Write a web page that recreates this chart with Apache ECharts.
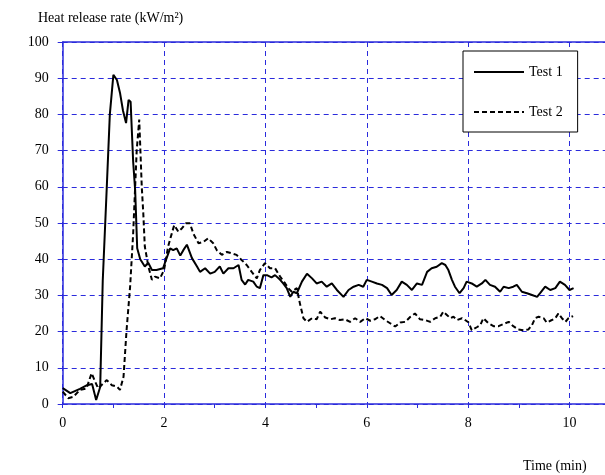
<!DOCTYPE html>
<html>
<head>
<meta charset="utf-8">
<script src="https://cdn.jsdelivr.net/npm/echarts@6/dist/echarts.min.js"></script>
<style>html,body{margin:0;padding:0;background:#fff}#c{width:605px;height:475px}</style>
</head>
<body>
<div id="c"></div>
<script>
var seriesNames = ['Test 1', 'Test 2'];
var xTickLabels = ['0', '2', '4', '6', '8', '10'];
var yTickLabels = ['0','10','20','30','40','50','60','70','80','90','100'];

var test1Time = [0,0.15,0.34,0.48,0.58,0.66,0.74,0.79,0.87,0.93,1.0,1.07,1.13,1.19,1.25,1.30,1.34,1.39,1.43,1.47,1.53,1.62,1.69,1.76,1.85,1.98,2.05,2.12,2.18,2.25,2.32,2.38,2.45,2.55,2.65,2.71,2.81,2.91,3.0,3.1,3.17,3.27,3.37,3.47,3.53,3.6,3.66,3.76,3.83,3.89,3.96,4.03,4.12,4.19,4.29,4.35,4.42,4.49,4.55,4.62,4.72,4.82,4.92,5.01,5.11,5.21,5.31,5.41,5.54,5.64,5.74,5.84,5.93,6.0,6.1,6.2,6.3,6.4,6.49,6.59,6.69,6.79,6.89,6.99,7.09,7.19,7.28,7.38,7.48,7.55,7.61,7.68,7.74,7.83,7.91,7.97,8.07,8.17,8.27,8.34,8.43,8.53,8.63,8.7,8.8,8.89,8.96,9.06,9.16,9.26,9.36,9.42,9.52,9.62,9.72,9.81,9.91,10.0,10.08];
var test1Value = [4.4,3.0,4.2,5.2,5.5,1.1,4.7,34,60,80,90.9,89.5,86,81,77.6,84,83.5,67,59,43,40,38,39,37,37,37.5,40.3,43,42.5,43,41,42.5,44,40.3,38,36.5,37.5,36,36.5,38,36,37.5,37.5,38.4,34.3,33,34.3,33.8,32.4,32,35.6,35.6,35,35.6,34.3,33.3,32,29.6,31,30.6,33.8,36,34.7,33.3,33.8,32.4,33.3,31.5,29.6,31.5,32.4,32.9,32.4,34.3,33.8,33.3,32.9,32,30.1,31.5,33.8,32.9,31.5,33.3,32.9,36.5,37.5,37.9,38.9,38.4,37,34.3,32.4,30.6,32,33.8,33.3,32.4,33.3,34.3,32.9,32.4,31,32.4,32,32.4,32.9,31,30.6,30.1,29.6,30.6,32.4,31.5,32,33.8,32.9,31.5,32];

var test2Time = [0,0.11,0.21,0.34,0.47,0.57,0.64,0.7,0.8,0.87,0.97,1.07,1.13,1.2,1.26,1.33,1.39,1.46,1.51,1.56,1.59,1.62,1.69,1.76,1.82,1.92,2.0,2.08,2.15,2.2,2.28,2.35,2.43,2.51,2.58,2.68,2.78,2.87,2.97,3.04,3.14,3.24,3.34,3.43,3.53,3.63,3.73,3.83,3.89,3.99,4.09,4.19,4.29,4.39,4.45,4.52,4.62,4.68,4.75,4.82,4.92,5.01,5.08,5.18,5.28,5.37,5.47,5.57,5.67,5.77,5.87,5.97,6.07,6.16,6.26,6.36,6.46,6.56,6.66,6.76,6.86,6.95,7.05,7.15,7.25,7.35,7.45,7.51,7.58,7.65,7.71,7.78,7.88,7.94,8.01,8.07,8.17,8.24,8.3,8.4,8.5,8.6,8.7,8.8,8.89,8.99,9.09,9.19,9.26,9.32,9.39,9.49,9.55,9.65,9.72,9.78,9.85,9.92,9.98,10.07];
var test2Value = [3.4,1.6,2.0,3.9,4.3,8.5,6.2,4.3,5.7,6.6,5.2,4.8,3.9,7.5,20.4,32.4,47,70,78.6,60,52.7,43.5,38,34.3,35.2,34.7,37,43.5,47,49.4,47.6,48.5,49.9,49.9,47,44.4,44.8,45.8,44.4,42.5,41.2,42,41.6,41.2,39.8,38.4,36.5,34.7,37,38.9,37.5,37.5,35.2,33.3,32,31,32,27.8,23.7,22.7,23.7,23.4,25.5,23.9,23.4,23.7,23.2,23.4,22.7,23.7,22.7,23.7,23,23.4,24.3,23.2,22.3,21.4,22.5,22.7,24.1,25,23.4,23.2,22.7,23.7,24.1,25.5,24.6,23.7,24.1,23.2,23.7,23.2,22.5,20.4,21.2,21.8,23.7,22.3,21.5,21.5,22.1,22.7,21.5,20.6,20.4,20.6,21.8,23.7,24.1,23.7,22.5,23.2,23.7,25,23.7,22.7,23.7,24.3];

function pairs(t, v) { return t.map(function (x, i) { return [x, v[i]]; }); }

var BLUE = '#2b2bdc';
var FONT = 'Liberation Serif';

var chart = echarts.init(document.getElementById('c'), null, { renderer: 'canvas' });
chart.setOption({
  animation: false,
  backgroundColor: '#fff',
  title: {
    text: 'Heat release rate (kW/m²)',
    left: 33, top: 6,
    textStyle: { fontFamily: FONT, fontSize: 14, fontWeight: 'normal', color: '#000' }
  },
  graphic: [{
    type: 'text', left: 523, top: 459,
    style: { text: 'Time (min)', font: '14px "Liberation Serif"', fill: '#000' }
  }],
  legend: {
    orient: 'vertical',
    left: 463, top: 51,
    padding: [14, 15, 13, 10],
    itemGap: 26,
    itemWidth: 50, itemHeight: 14,
    backgroundColor: '#fff',
    borderColor: '#000', borderWidth: 1,
    itemStyle: { color: 'rgba(0,0,0,0)', borderWidth: 0, opacity: 0 },
    textStyle: { fontFamily: FONT, fontSize: 14, color: '#000' },
    data: seriesNames
  },
  grid: { left: 62.7, right: 0, top: 42, bottom: 71, containLabel: false },
  xAxis: [{
    type: 'value', min: 0, max: 10.7, interval: 2,
    axisLine: { show: true, lineStyle: { color: BLUE, width: 1.5 } },
    axisTick: { show: true, length: 4, lineStyle: { color: BLUE } },
    minorTick: { show: true, splitNumber: 2, length: 4, lineStyle: { color: BLUE } },
    axisLabel: {
      margin: 12, fontFamily: FONT, fontSize: 14, color: '#000', showMaxLabel: false,
      formatter: function (v) { var i = xTickLabels.indexOf(String(v)); return i >= 0 ? xTickLabels[i] : ''; }
    },
    splitLine: { show: true, lineStyle: { color: BLUE, type: [5, 4], width: 1 } }
  }, {
    type: 'value', position: 'top', min: 0, max: 10.7,
    axisLine: { show: true, onZero: false, lineStyle: { color: BLUE, width: 1.5 } },
    axisTick: { show: false }, axisLabel: { show: false }, splitLine: { show: false }
  }],
  yAxis: {
    type: 'value', min: 0, max: 100, interval: 10,
    axisLine: { show: true, lineStyle: { color: BLUE, width: 1.5 } },
    axisTick: { show: true, length: 5, lineStyle: { color: BLUE } },
    axisLabel: {
      margin: 14, fontFamily: FONT, fontSize: 14, color: '#000',
      formatter: function (v) { var i = yTickLabels.indexOf(String(v)); return i >= 0 ? yTickLabels[i] : ''; }
    },
    splitLine: { show: true, lineStyle: { color: BLUE, type: [5, 4], width: 1 } }
  },
  series: [{
    name: seriesNames[0], type: 'line', xAxisIndex: 0,
    data: pairs(test1Time, test1Value),
    symbol: 'none', showSymbol: false,
    lineStyle: { color: '#000', width: 2 },
    itemStyle: { color: '#000' }
  }, {
    name: seriesNames[1], type: 'line', xAxisIndex: 0,
    data: pairs(test2Time, test2Value),
    symbol: 'none', showSymbol: false,
    lineStyle: { color: '#000', width: 2, type: [5, 3] },
    itemStyle: { color: '#000' }
  }]
});
</script>
</body>
</html>
